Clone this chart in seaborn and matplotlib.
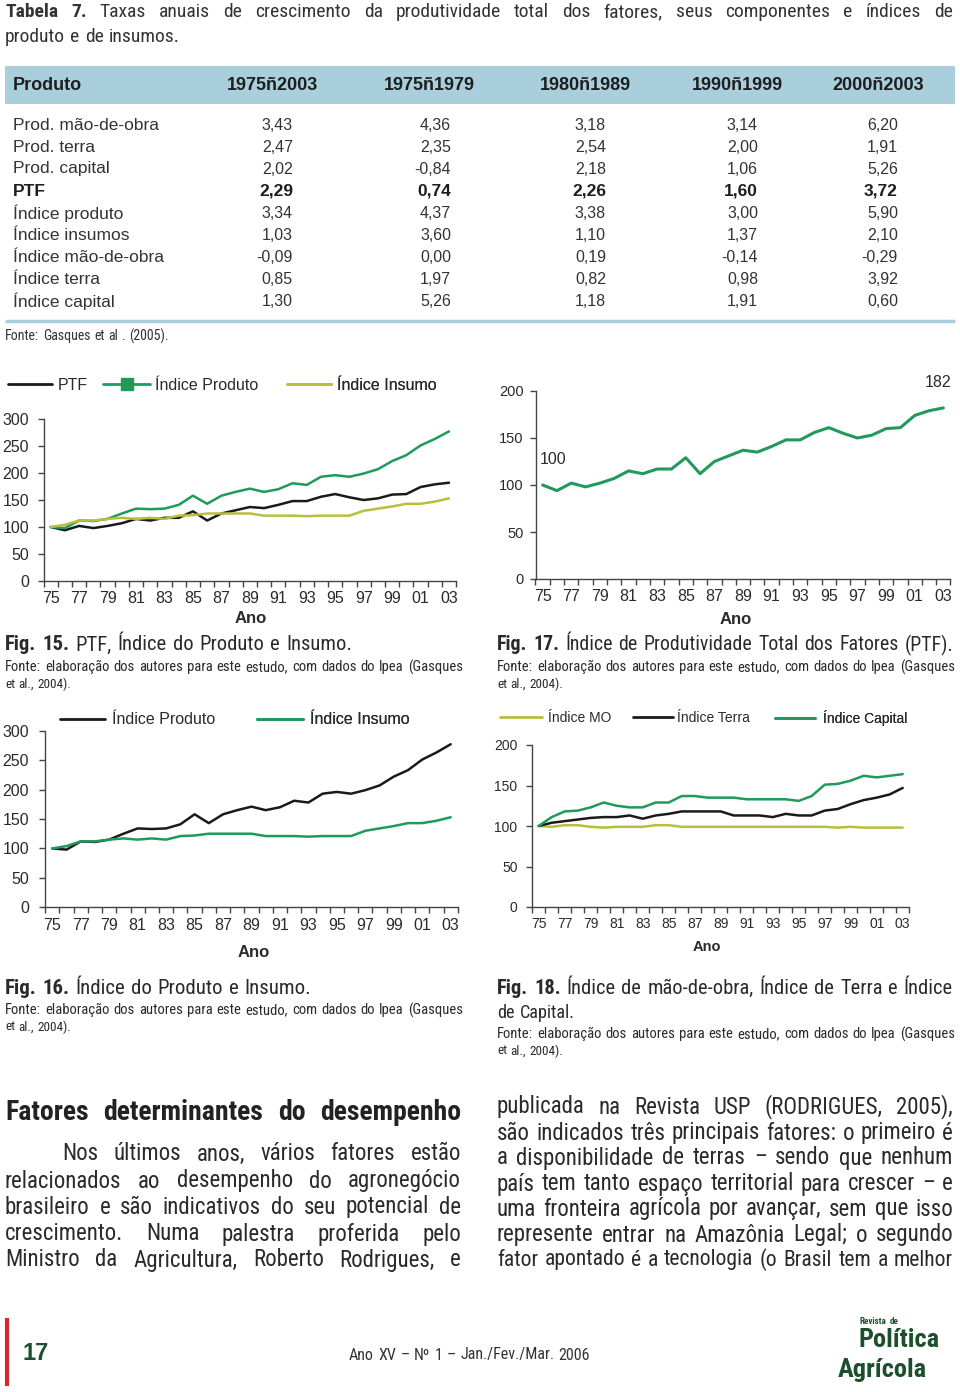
import numpy as np
import pandas as pd
import matplotlib
matplotlib.use("Agg")
import matplotlib.pyplot as plt
import seaborn as sns
from matplotlib import font_manager
from matplotlib.lines import Line2D
from matplotlib.patches import Rectangle

# ---------------- data ----------------
anos = list(range(1975, 2004))
ptf = [100, 94, 102, 98, 102, 107, 115, 112, 117, 117, 129, 112, 125, 131, 137,
       135, 141, 148, 148, 156, 161, 155, 150, 153, 160, 161, 174, 179, 182]
indice_produto = [100, 98, 112, 111, 115, 125, 134, 133, 134, 141, 158, 143, 158, 165, 171,
                  165, 170, 181, 178, 193, 196, 193, 199, 207, 222, 233, 251, 263, 277]
indice_insumo = [100, 104, 112, 112, 115, 117, 115, 117, 115, 121, 122, 125, 125, 125, 125,
                 121, 121, 121, 120, 121, 121, 121, 130, 134, 138, 143, 143, 147, 153]
indice_mo = [100, 99, 101, 101, 99, 98, 99, 99, 99, 101, 101, 99, 99, 99, 99,
             99, 99, 99, 99, 99, 99, 99, 99, 98, 99, 98, 98, 98, 98]
indice_terra = [100, 104, 106, 108, 110, 111, 111, 113, 109, 113, 115, 118, 118, 118, 118,
                113, 113, 113, 111, 115, 113, 113, 119, 121, 127, 132, 135, 139, 147]
indice_capital = [100, 111, 118, 119, 123, 129, 125, 123, 123, 129, 129, 137, 137, 135, 135,
                  135, 133, 133, 133, 133, 131, 137, 151, 152, 156, 162, 160, 162, 164]

tab_rows = ["Prod. mão-de-obra", "Prod. terra", "Prod. capital", "PTF", "Índice produto",
            "Índice insumos", "Índice mão-de-obra", "Índice terra", "Índice capital"]
tab_cols = ["1975ñ2003", "1975ñ1979", "1980ñ1989", "1990ñ1999", "2000ñ2003"]
p_1975_2003 = ["3,43", "2,47", "2,02", "2,29", "3,34", "1,03", "-0,09", "0,85", "1,30"]
p_1975_1979 = ["4,36", "2,35", "-0,84", "0,74", "4,37", "3,60", "0,00", "1,97", "5,26"]
p_1980_1989 = ["3,18", "2,54", "2,18", "2,26", "3,38", "1,10", "0,19", "0,82", "1,18"]
p_1990_1999 = ["3,14", "2,00", "1,06", "1,60", "3,00", "1,37", "-0,14", "0,98", "1,91"]
p_2000_2003 = ["6,20", "1,91", "5,26", "3,72", "5,90", "2,10", "-0,29", "3,92", "0,60"]
tab_values = [p_1975_2003, p_1975_1979, p_1980_1989, p_1990_1999, p_2000_2003]

# ---------------- style ----------------
sns.set_theme(style="ticks")
avail = {f.name for f in font_manager.fontManager.ttflist}
ARIAL = "Liberation Sans" if "Liberation Sans" in avail else "DejaVu Sans"
NARROW = next((f for f in ["Liberation Sans Narrow", "Roboto Condensed", "Open Sans Condensed"]
               if f in avail), ARIAL)
plt.rcParams["font.family"] = [ARIAL, "DejaVu Sans"]

GREEN = "#1f9a5b"
YELLOW = "#b7bf3c"
BLACK = "#1a1a1a"
TXT = "#2a2a2a"
BLUE = "#a9cfdc"
DARKG = "#1c4f2c"

W, H = 960, 1392
fig = plt.figure(figsize=(W / 100, H / 100), dpi=100)
fig.patch.set_facecolor("white")
OV = fig.add_axes([0, 0, 1, 1])
OV.set_xlim(0, W)
OV.set_ylim(H, 0)
OV.axis("off")
R = fig.canvas.get_renderer()


def width_of(t):
    return t.get_window_extent(renderer=R).width


def jline(spec, x0, x1, y, size, family=None, justify=True, gap_em=0.27, color=TXT):
    """spec: list of (text, weight) segments; words drawn individually."""
    family = family or [NARROW, "DejaVu Sans"]
    words = []
    for seg, wt in spec:
        for w in seg.split():
            words.append((w, wt))

    def make(sz):
        arts, ws = [], []
        for w, wt in words:
            t = OV.text(0, y, w, fontsize=sz, fontweight=wt, family=family,
                        color=color, va="center", ha="left")
            arts.append(t)
            ws.append(width_of(t))
        return arts, ws

    arts, ws = make(size)
    em = size * 100 / 72
    n = len(arts)
    natural = sum(ws) + gap_em * em * (n - 1)
    target = x1 - x0
    if natural > target:
        for a in arts:
            a.remove()
        size = size * target / natural * 0.995
        arts, ws = make(size)
        em = size * 100 / 72
    if justify and n > 1:
        gap = (target - sum(ws)) / (n - 1)
    else:
        gap = gap_em * em
    x = x0
    for a, w in zip(arts, ws):
        a.set_x(x)
        x += w + gap


def px_axes(l, t, r, b):
    ax = fig.add_axes([l / W, 1 - b / H, (r - l) / W, (b - t) / H])
    ax.set_facecolor("none")
    return ax


def style_chart(ax, ymax, ystep, xfs, yfs, ypad, xpad, ano_xy, ano_fs, box):
    l, t, r, b = box
    ax.set_xlim(1974.5, 2003.5)
    ax.set_ylim(0, ymax)
    ax.set_yticks(np.arange(0, ymax + 1, ystep))
    ax.set_xticks(anos[::2])
    ax.set_xticklabels([f"{a % 100:02d}" for a in anos[::2]])
    ax.set_xticks(np.arange(1974.5, 2004, 1), minor=True)
    ax.tick_params(axis="x", which="major", length=0, pad=xpad, labelsize=xfs, labelcolor=TXT)
    ax.tick_params(axis="x", which="minor", length=4, width=1, color="#444")
    ax.tick_params(axis="y", length=4.5, width=1, pad=ypad, labelsize=yfs, color="#444",
                   labelcolor=TXT)
    for s in ["top", "right"]:
        ax.spines[s].set_visible(False)
    for s in ["left", "bottom"]:
        ax.spines[s].set_color("#444")
        ax.spines[s].set_linewidth(1)
    ax.set_ylabel("")
    ax.set_xlabel("Ano", fontweight="bold", fontsize=ano_fs, color=TXT)
    cx, cy = ano_xy
    half = 0.5 * ano_fs * 100 / 72 * 0.85
    ax.xaxis.set_label_coords((cx - l) / (r - l), (b - (cy - half)) / (b - t))
    ax.xaxis.label.set_va("top")


def leg_item(ax, color, label, hx0, hx1, tx, y, fs, marker=None, lw=2):
    h = Line2D([], [], color=color, lw=lw, marker=marker, markersize=8 if marker else 0)
    em = fs * 100 / 72
    leg = ax.legend([h], [label], loc="center left", bbox_to_anchor=(hx0 / W, 1 - y / H),
                    bbox_transform=fig.transFigure, frameon=False, borderpad=0,
                    borderaxespad=0, handlelength=(hx1 - hx0) / em,
                    handletextpad=(tx - hx1) / em, numpoints=1,
                    prop={"family": [ARIAL, "DejaVu Sans"], "size": fs})
    for t in leg.get_texts():
        t.set_color(TXT)
    ax.add_artist(leg)


# ---------------- Table 7 ----------------
jline([("Tabela 7.", "bold"),
       ("Taxas anuais de crescimento da produtividade total dos fatores, seus componentes e índices de", "normal")],
      5, 953, 12, 14, color="#333")
jline([("produto e de insumos.", "normal")], 5, 200, 37, 14, justify=False, color="#333")

OV.add_patch(Rectangle((5, 66), 950, 38, facecolor=BLUE, edgecolor="none"))
OV.text(13, 85, "Produto", fontsize=13, fontweight="bold", color="#1e1e1e", va="center", ha="left")
col_centers = [272, 429, 585, 737, 878]
col_right = [293, 451, 606, 758, 898]
for c, cx in zip(tab_cols, col_centers):
    OV.text(cx, 85, c, fontsize=13, fontweight="bold", color="#1e1e1e", va="center", ha="center")
row_y = [125, 147, 169, 191, 213, 235, 257, 279, 301]
for i, (lab, yy) in enumerate(zip(tab_rows, row_y)):
    bold = lab == "PTF"
    OV.text(13, yy, lab, fontsize=12.5, fontweight="bold" if bold else "normal",
            color="#1e1e1e" if bold else "#333", va="center", ha="left")
    for vals, xr in zip(tab_values, col_right):
        OV.text(xr, yy, vals[i], fontsize=12.5 if bold else 11.5,
                fontweight="bold" if bold else "normal",
                color="#1e1e1e" if bold else "#333", va="center", ha="right")
OV.plot([5, 955], [320.5, 320.5], color=BLUE, lw=2.5, solid_capstyle="butt")
jline([("Fonte: Gasques et al . (2005).", "normal")], 5, 195, 336, 10, color="#333", justify=False)

# ---------------- Fig. 15 ----------------
box15 = (43.6, 419, 456.1, 581)
ax15 = px_axes(*box15)
df15 = pd.DataFrame({"Ano": anos * 3,
                     "Valor": ptf + indice_produto + indice_insumo,
                     "Serie": ["PTF"] * 29 + ["Índice Produto"] * 29 + ["Índice Insumo"] * 29})
sns.lineplot(data=df15, x="Ano", y="Valor", hue="Serie",
             palette={"PTF": BLACK, "Índice Produto": GREEN, "Índice Insumo": YELLOW},
             linewidth=1.8, legend=False, ax=ax15)
style_chart(ax15, 300, 50, 11.5, 11.5, 6, 7.5, (251, 618), 12, box15)
leg_item(ax15, BLACK, "PTF", 8, 52, 58, 385, 11.5)
leg_item(ax15, GREEN, "Índice Produto", 103, 150, 155, 385, 11.5, marker="s")
leg_item(ax15, YELLOW, "Índice Insumo", 287, 331, 337, 385, 11.5)

# ---------------- Fig. 17 ----------------
box17 = (535.5, 391, 950.5, 579)
ax17 = px_axes(*box17)
df17 = pd.DataFrame({"Ano": anos, "PTF": ptf})
sns.lineplot(data=df17, x="Ano", y="PTF", color=GREEN, linewidth=2.2, ax=ax17)
style_chart(ax17, 200, 50, 11.5, 10.5, 4, 7.5, (736, 619), 12, box17)
ax17.annotate(f"{ptf[0]}", xy=(anos[0], ptf[0]), xytext=(7.5, 18), textcoords="offset points",
              ha="center", va="center", fontsize=11.5, color=TXT)
ax17.annotate(f"{ptf[-1]}", xy=(anos[-1], ptf[-1]), xytext=(-3.6, 18), textcoords="offset points",
              ha="center", va="center", fontsize=11.5, color=TXT)

# ---------------- Fig. 16 ----------------
box16 = (45.2, 730.7, 457.8, 907.3)
ax16 = px_axes(*box16)
df16 = pd.DataFrame({"Ano": anos * 2,
                     "Valor": indice_produto + indice_insumo,
                     "Serie": ["Índice Produto"] * 29 + ["Índice Insumo"] * 29})
sns.lineplot(data=df16, x="Ano", y="Valor", hue="Serie",
             palette={"Índice Produto": BLACK, "Índice Insumo": GREEN},
             linewidth=1.8, legend=False, ax=ax16)
style_chart(ax16, 300, 50, 11.5, 11.5, 7, 7.5, (254, 952), 12, box16)
leg_item(ax16, BLACK, "Índice Produto", 60, 105, 112, 720, 11.5)
leg_item(ax16, GREEN, "Índice Insumo", 257, 303, 310, 720, 11.5)

# ---------------- Fig. 18 ----------------
box18 = (532.2, 745, 909.2, 907)
ax18 = px_axes(*box18)
df18 = pd.DataFrame({"Ano": anos * 3,
                     "Valor": indice_mo + indice_terra + indice_capital,
                     "Serie": ["Índice MO"] * 29 + ["Índice Terra"] * 29 + ["Índice Capital"] * 29})
sns.lineplot(data=df18, x="Ano", y="Valor", hue="Serie",
             palette={"Índice MO": YELLOW, "Índice Terra": BLACK, "Índice Capital": GREEN},
             linewidth=1.8, legend=False, ax=ax18)
style_chart(ax18, 200, 50, 10, 10, 6, 7, (707, 946), 10.5, box18)
leg_item(ax18, YELLOW, "Índice MO", 500, 542, 548, 718, 10)
leg_item(ax18, BLACK, "Índice Terra", 633, 673, 677, 718, 10)
leg_item(ax18, GREEN, "Índice Capital", 775, 815, 823, 718, 10)

# ---------------- captions ----------------
FONTE1 = "Fonte: elaboração dos autores para este estudo, com dados do Ipea (Gasques"
FONTE2 = "et al., 2004)."
CAP = 15
FS = 10.5
jline([("Fig. 15.", "bold"), ("PTF, Índice do Produto e Insumo.", "normal")], 5, 352, 645, CAP)
jline([(FONTE1, "normal")], 5, 463, 667, FS)
jline([(FONTE2, "normal")], 5, 72, 684, FS, justify=False)

jline([("Fig. 17.", "bold"), ("Índice de Produtividade Total dos Fatores (PTF).", "normal")], 497, 953, 645, CAP)
jline([(FONTE1, "normal")], 497, 955, 667, FS)
jline([(FONTE2, "normal")], 497, 564, 684, FS, justify=False)

jline([("Fig. 16.", "bold"), ("Índice do Produto e Insumo.", "normal")], 5, 311, 988, CAP)
jline([(FONTE1, "normal")], 5, 463, 1010, FS)
jline([(FONTE2, "normal")], 5, 72, 1027, FS, justify=False)

jline([("Fig. 18.", "bold"), ("Índice de mão-de-obra, Índice de Terra e Índice", "normal")], 497, 953, 988, CAP)
jline([("de Capital.", "normal")], 497, 575, 1013, CAP, justify=False)
jline([(FONTE1, "normal")], 497, 955, 1034, FS)
jline([(FONTE2, "normal")], 497, 564, 1051, FS, justify=False)

# ---------------- body text ----------------
jline([("Fatores determinantes do desempenho", "bold")], 5, 461, 1112, 20, color="#222")
left_lines = ["Nos últimos anos, vários fatores estão",
              "relacionados ao desempenho do agronegócio",
              "brasileiro e são indicativos do seu potencial de",
              "crescimento. Numa palestra proferida pelo",
              "Ministro da Agricultura, Roberto Rodrigues, e"]
left_y = [1154, 1181, 1207, 1234, 1260]
BODY = 16.5
for i, (s, yy) in enumerate(zip(left_lines, left_y)):
    jline([(s, "normal")], 62 if i == 0 else 5, 461, yy, BODY)
right_lines = ["publicada na Revista USP (RODRIGUES, 2005),",
               "são indicados três principais fatores: o primeiro é",
               "a disponibilidade de terras – sendo que nenhum",
               "país tem tanto espaço territorial para crescer – e",
               "uma fronteira agrícola por avançar, sem que isso",
               "represente entrar na Amazônia Legal; o segundo",
               "fator apontado é a tecnologia (o Brasil tem a melhor"]
right_y = [1107, 1133, 1158, 1184, 1209, 1235, 1260]
for s, yy in zip(right_lines, right_y):
    jline([(s, "normal")], 497, 953, yy, BODY)

# ---------------- footer ----------------
OV.plot([6.5, 6.5], [1318, 1386], color="#d42a2d", lw=3, solid_capstyle="butt")
OV.text(22, 1353, "17", fontsize=17, fontweight="bold", color=DARKG, va="center", ha="left")
jline([("Ano XV – Nº 1 – Jan./Fev./Mar. 2006", "normal")], 349, 610, 1355, 11.5, color="#333",
      justify=False)
jline([("Revista de", "bold")], 860, 898, 1321, 7, color=DARKG, justify=False)
jline([("Política", "bold")], 858, 953, 1340, 19, color=DARKG, justify=False)
jline([("Agrícola", "bold")], 838, 943, 1370, 19, color=DARKG, justify=False)

fig.savefig("out.png", dpi=100, facecolor="white")
